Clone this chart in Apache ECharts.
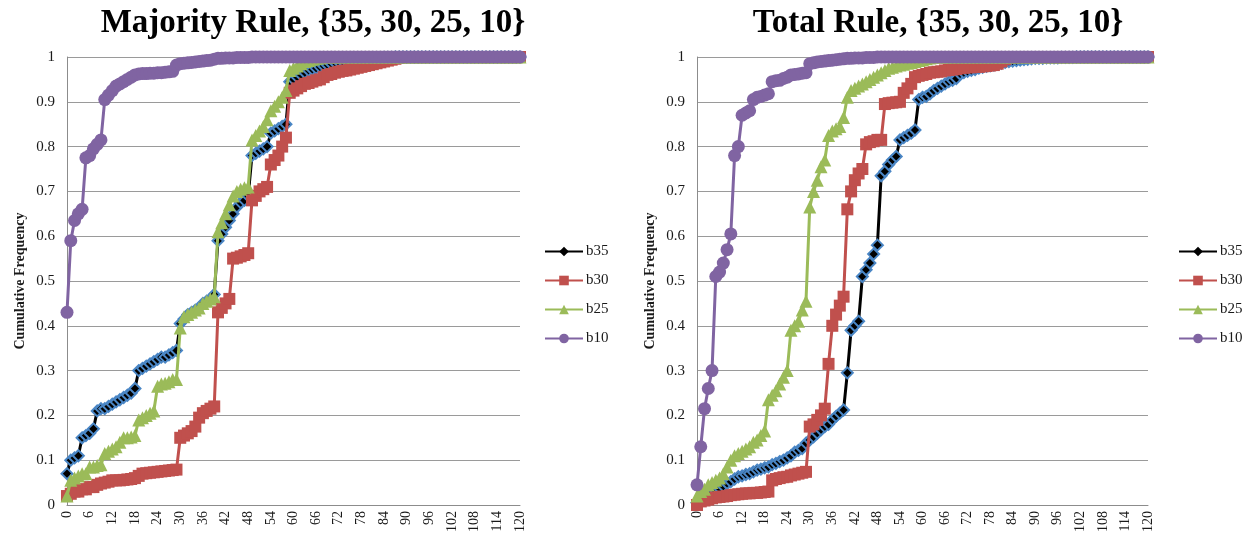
<!DOCTYPE html>
<html>
<head>
<meta charset="utf-8">
<style>
  html, body { margin: 0; padding: 0; background: #fff; }
  #chart { width: 1246px; height: 541px; }
</style>
<script src="https://cdn.jsdelivr.net/npm/echarts@6/dist/echarts.min.js"></script>
</head>
<body>
<div id="chart"></div>
<script>
// Category axis: rounds 0..120
const categories = [];
for (let i = 0; i <= 120; i++) categories.push(String(i));

const seriesNames = ['b35', 'b30', 'b25', 'b10'];

// Majority Rule, cumulative frequency per round
const majB35 = [
  0.07, 0.10, 0.105, 0.11, 0.15, 0.155, 0.16, 0.17, 0.21, 0.215,
  0.215, 0.22, 0.225, 0.23, 0.235, 0.24, 0.245, 0.25, 0.26, 0.30,
  0.305, 0.31, 0.315, 0.32, 0.325, 0.33, 0.33, 0.335, 0.34, 0.345,
  0.405, 0.415, 0.425, 0.43, 0.435, 0.44, 0.45, 0.455, 0.46, 0.47,
  0.59, 0.605, 0.62, 0.635, 0.65, 0.665, 0.675, 0.68, 0.69, 0.78,
  0.785, 0.79, 0.795, 0.80, 0.83, 0.835, 0.84, 0.845, 0.85, 0.945,
  0.95, 0.955, 0.96, 0.965, 0.97, 0.972, 0.975, 0.978, 0.98, 0.982,
  0.985, 0.987, 0.989, 0.99, 0.991, 0.992, 0.993, 0.994, 0.995, 0.996,
  0.997, 0.997, 0.998, 0.998, 0.999, 0.999, 0.999, 1, 1, 1,
  1, 1, 1, 1, 1, 1, 1, 1, 1, 1,
  1, 1, 1, 1, 1, 1, 1, 1, 1, 1,
  1, 1, 1, 1, 1, 1, 1, 1, 1, 1,
  1
];
const majB30 = [
  0.02, 0.025, 0.03, 0.03, 0.035, 0.035, 0.04, 0.04, 0.045, 0.048,
  0.05, 0.052, 0.055, 0.055, 0.055, 0.056, 0.057, 0.058, 0.06, 0.065,
  0.07, 0.071, 0.072, 0.073, 0.074, 0.075, 0.076, 0.077, 0.078, 0.079,
  0.15, 0.155, 0.16, 0.165, 0.175, 0.195, 0.205, 0.21, 0.215, 0.22,
  0.43, 0.44, 0.45, 0.46, 0.55, 0.552, 0.555, 0.558, 0.562, 0.68,
  0.69, 0.70, 0.705, 0.71, 0.76, 0.77, 0.78, 0.80, 0.82, 0.92,
  0.925, 0.93, 0.935, 0.94, 0.942, 0.945, 0.948, 0.95, 0.955, 0.96,
  0.962, 0.965, 0.967, 0.969, 0.97, 0.972, 0.974, 0.976, 0.978, 0.98,
  0.982, 0.984, 0.986, 0.988, 0.99, 0.992, 0.994, 0.996, 0.998, 1,
  1, 1, 1, 1, 1, 1, 1, 1, 1, 1,
  1, 1, 1, 1, 1, 1, 1, 1, 1, 1,
  1, 1, 1, 1, 1, 1, 1, 1, 1, 1,
  1
];
const majB25 = [
  0.02, 0.055, 0.06, 0.065, 0.07, 0.07, 0.085, 0.085, 0.088, 0.09,
  0.115, 0.12, 0.125, 0.13, 0.14, 0.15, 0.15, 0.152, 0.155, 0.19,
  0.195, 0.20, 0.205, 0.21, 0.265, 0.27, 0.272, 0.275, 0.28, 0.28,
  0.395, 0.42, 0.425, 0.43, 0.435, 0.44, 0.45, 0.455, 0.46, 0.465,
  0.61, 0.63, 0.65, 0.67, 0.69, 0.70, 0.705, 0.708, 0.71, 0.815,
  0.825, 0.835, 0.845, 0.86, 0.88, 0.89, 0.90, 0.91, 0.925, 0.97,
  0.975, 0.98, 0.985, 0.99, 0.992, 0.995, 0.997, 0.998, 1, 1,
  1, 1, 1, 1, 1, 1, 1, 1, 1, 1,
  1, 1, 1, 1, 1, 1, 1, 1, 1, 1,
  1, 1, 1, 1, 1, 1, 1, 1, 1, 1,
  1, 1, 1, 1, 1, 1, 1, 1, 1, 1,
  1, 1, 1, 1, 1, 1, 1, 1, 1, 1,
  1
];
const majB10 = [
  0.43, 0.59, 0.635, 0.65, 0.66, 0.775, 0.78, 0.795, 0.805, 0.815,
  0.905, 0.915, 0.925, 0.935, 0.94, 0.945, 0.95, 0.955, 0.96, 0.962,
  0.963, 0.963, 0.964, 0.964, 0.965, 0.965, 0.966, 0.967, 0.968, 0.982,
  0.985, 0.986, 0.987, 0.988, 0.989, 0.99, 0.991, 0.992, 0.993, 0.995,
  0.997, 0.997, 0.998, 0.998, 0.998, 0.999, 0.999, 0.999, 0.999, 1,
  1, 1, 1, 1, 1, 1, 1, 1, 1, 1,
  1, 1, 1, 1, 1, 1, 1, 1, 1, 1,
  1, 1, 1, 1, 1, 1, 1, 1, 1, 1,
  1, 1, 1, 1, 1, 1, 1, 1, 1, 1,
  1, 1, 1, 1, 1, 1, 1, 1, 1, 1,
  1, 1, 1, 1, 1, 1, 1, 1, 1, 1,
  1, 1, 1, 1, 1, 1, 1, 1, 1, 1,
  1
];

// Total Rule, cumulative frequency per round
const totB35 = [
  0.005, 0.01, 0.015, 0.02, 0.026, 0.032, 0.037, 0.042, 0.048, 0.052,
  0.058, 0.063, 0.065, 0.068, 0.07, 0.074, 0.078, 0.08, 0.083, 0.085,
  0.09, 0.093, 0.097, 0.10, 0.105, 0.11, 0.118, 0.122, 0.126, 0.138,
  0.145, 0.152, 0.16, 0.168, 0.175, 0.18, 0.19, 0.198, 0.205, 0.212,
  0.295, 0.39, 0.40, 0.41, 0.51, 0.525, 0.54, 0.56, 0.58, 0.735,
  0.745, 0.76, 0.77, 0.778, 0.815, 0.82, 0.825, 0.83, 0.837, 0.905,
  0.91, 0.912, 0.918, 0.925, 0.93, 0.935, 0.94, 0.945, 0.948, 0.952,
  0.962, 0.965, 0.968, 0.97, 0.972, 0.975, 0.977, 0.979, 0.98, 0.982,
  0.984, 0.986, 0.988, 0.99, 0.991, 0.992, 0.993, 0.994, 0.995, 0.996,
  0.997, 0.997, 0.997, 0.998, 0.998, 0.998, 0.998, 0.999, 0.999, 0.999,
  0.999, 1, 1, 1, 1, 1, 1, 1, 1, 1,
  1, 1, 1, 1, 1, 1, 1, 1, 1, 1,
  1
];
const totB30 = [
  0.0, 0.008, 0.01, 0.012, 0.015, 0.017, 0.018, 0.019, 0.02, 0.022,
  0.023, 0.024, 0.025, 0.026, 0.026, 0.027, 0.027, 0.028, 0.029, 0.03,
  0.055, 0.058, 0.06, 0.062, 0.063, 0.066, 0.068, 0.07, 0.072, 0.074,
  0.175, 0.18, 0.19, 0.20, 0.215, 0.315, 0.40, 0.425, 0.445, 0.465,
  0.66, 0.70, 0.725, 0.74, 0.75, 0.805, 0.81, 0.812, 0.815, 0.815,
  0.895, 0.897, 0.898, 0.899, 0.90, 0.92, 0.93, 0.94, 0.955, 0.958,
  0.96, 0.962, 0.965, 0.966, 0.967, 0.968, 0.97, 0.971, 0.972, 0.973,
  0.975, 0.976, 0.977, 0.977, 0.978, 0.978, 0.979, 0.98, 0.981, 0.982,
  0.985, 0.99, 0.995, 0.998, 1, 1, 1, 1, 1, 1,
  1, 1, 1, 1, 1, 1, 1, 1, 1, 1,
  1, 1, 1, 1, 1, 1, 1, 1, 1, 1,
  1, 1, 1, 1, 1, 1, 1, 1, 1, 1,
  1
];
const totB25 = [
  0.02, 0.03, 0.035, 0.045, 0.05, 0.055, 0.06, 0.07, 0.085, 0.10,
  0.11, 0.115, 0.12, 0.125, 0.13, 0.14, 0.145, 0.155, 0.165, 0.235,
  0.245, 0.255, 0.27, 0.285, 0.30, 0.39, 0.40, 0.41, 0.435, 0.455,
  0.665, 0.70, 0.725, 0.755, 0.77, 0.825, 0.835, 0.84, 0.845, 0.865,
  0.91, 0.925, 0.93, 0.935, 0.94, 0.945, 0.95, 0.955, 0.96, 0.965,
  0.97, 0.975, 0.977, 0.98, 0.982, 0.984, 0.986, 0.988, 0.99, 0.992,
  0.994, 0.996, 0.998, 1, 1, 1, 1, 1, 1, 1,
  1, 1, 1, 1, 1, 1, 1, 1, 1, 1,
  1, 1, 1, 1, 1, 1, 1, 1, 1, 1,
  1, 1, 1, 1, 1, 1, 1, 1, 1, 1,
  1, 1, 1, 1, 1, 1, 1, 1, 1, 1,
  1, 1, 1, 1, 1, 1, 1, 1, 1, 1,
  1
];
const totB10 = [
  0.045, 0.13, 0.215, 0.26, 0.30, 0.51, 0.52, 0.54, 0.57, 0.605,
  0.78, 0.80, 0.87, 0.875, 0.88, 0.905, 0.91, 0.912, 0.915, 0.918,
  0.945, 0.947, 0.948, 0.952, 0.955, 0.96, 0.961, 0.962, 0.964, 0.965,
  0.985, 0.987, 0.989, 0.99, 0.991, 0.992, 0.993, 0.994, 0.995, 0.996,
  0.997, 0.997, 0.998, 0.998, 0.998, 0.999, 0.999, 0.999, 1, 1,
  1, 1, 1, 1, 1, 1, 1, 1, 1, 1,
  1, 1, 1, 1, 1, 1, 1, 1, 1, 1,
  1, 1, 1, 1, 1, 1, 1, 1, 1, 1,
  1, 1, 1, 1, 1, 1, 1, 1, 1, 1,
  1, 1, 1, 1, 1, 1, 1, 1, 1, 1,
  1, 1, 1, 1, 1, 1, 1, 1, 1, 1,
  1, 1, 1, 1, 1, 1, 1, 1, 1, 1,
  1
];

const titles = ['Majority Rule, {35, 30, 25, 10}', 'Total Rule, {35, 30, 25, 10}'];
const panelData = [
  [majB35, majB30, majB25, majB10],
  [totB35, totB30, totB25, totB10]
];

const FONT = '"Liberation Serif", "Times New Roman", serif';

// Marker / line look for each series, in seriesNames order
const styles = [
  { symbol: 'diamond',  size: 11, fill: '#000000', border: '#4a86c5', borderWidth: 2,  line: '#000000' },
  { symbol: 'rect',     size: 12, fill: '#c0504d', border: '#c0504d', borderWidth: 0,  line: '#c0504d' },
  { symbol: 'triangle', size: 13, fill: '#9bbb59', border: '#9bbb59', borderWidth: 0,  line: '#9bbb59' },
  { symbol: 'circle',   size: 13, fill: '#8064a2', border: '#8064a2', borderWidth: 0,  line: '#8064a2' }
];

const grids = [
  { left: 67, right: 726, top: 57, bottom: 36 },
  { left: 697, right: 98, top: 57, bottom: 36 }
];

const xAxes = grids.map((g, i) => ({
  type: 'category',
  gridIndex: i,
  data: categories,
  boundaryGap: false,
  axisLine: { lineStyle: { color: '#8c8c8c', width: 1 } },
  axisTick: { show: false },
  axisLabel: {
    interval: 5,
    rotate: 90,
    margin: 6,
    fontFamily: FONT,
    fontSize: 14,
    color: '#1a1a1a'
  },
  splitLine: { show: false }
}));

const yAxes = grids.map((g, i) => ({
  type: 'value',
  gridIndex: i,
  min: 0,
  max: 1,
  interval: 0.1,
  name: 'Cumulative Frequency',
  nameLocation: 'middle',
  nameGap: 40,
  nameTextStyle: { fontFamily: FONT, fontSize: 14, fontWeight: 'bold', color: '#1a1a1a' },
  axisLine: { show: true, lineStyle: { color: '#8c8c8c', width: 1 } },
  axisTick: { show: false },
  axisLabel: { fontFamily: FONT, fontSize: 15, color: '#1a1a1a', margin: 12 },
  splitLine: { lineStyle: { color: '#9a9a9a', width: 1 } }
}));

const series = [];
panelData.forEach((arrs, p) => {
  arrs.forEach((vals, k) => {
    const s = styles[k];
    series.push({
      name: seriesNames[k],
      type: 'line',
      xAxisIndex: p,
      yAxisIndex: p,
      data: vals,
      symbol: s.symbol,
      symbolSize: s.size,
      showSymbol: true,
      showAllSymbol: true,
      lineStyle: { color: s.line, width: 3 },
      itemStyle: { color: s.fill, borderColor: s.border, borderWidth: s.borderWidth },
      emphasis: { disabled: true },
      z: 2 + k
    });
  });
});

const legendBase = {
  orient: 'vertical',
  data: seriesNames,
  itemWidth: 38,
  itemHeight: 12,
  itemGap: 14,
  itemStyle: { borderWidth: 0 },
  textStyle: { fontFamily: FONT, fontSize: 15, color: '#1a1a1a', padding: [0, 0, 0, -2] },
  selectedMode: false
};

const chart = echarts.init(document.getElementById('chart'), null, { renderer: 'canvas' });
chart.setOption({
  animation: false,
  backgroundColor: '#ffffff',
  title: [
    { text: titles[0], left: 308, top: 2, textAlign: 'center',
      textStyle: { fontFamily: FONT, fontSize: 33, fontWeight: 'bold', color: '#000' } },
    { text: titles[1], left: 933, top: 2, textAlign: 'center',
      textStyle: { fontFamily: FONT, fontSize: 33, fontWeight: 'bold', color: '#000' } }
  ],
  legend: [
    Object.assign({ left: 539, top: 239 }, legendBase),
    Object.assign({ left: 1173, top: 239 }, legendBase)
  ],
  grid: grids,
  xAxis: xAxes,
  yAxis: yAxes,
  series: series
});
</script>
</body>
</html>
